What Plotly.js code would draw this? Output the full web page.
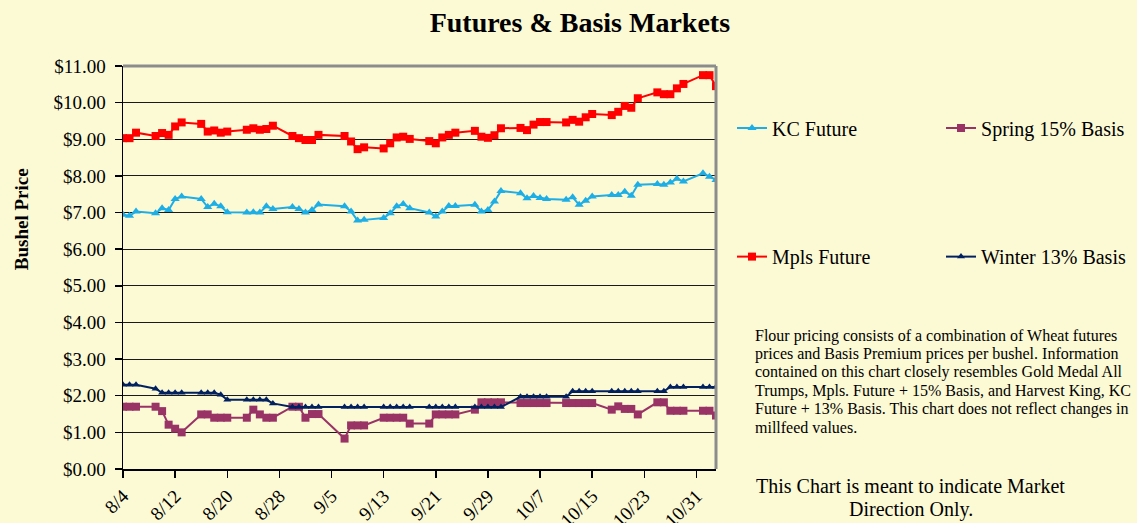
<!DOCTYPE html>
<html><head><meta charset="utf-8">
<script src="https://cdn.plot.ly/plotly-3.0.1.min.js"></script>
<style>html,body{margin:0;padding:0;background:#FCF9D5;}</style>
</head><body><div id="chart" style="width:1137px;height:523px;"></div>
<script>
const dates = [
 '2021-08-04','2021-08-05','2021-08-06','2021-08-09','2021-08-10','2021-08-11','2021-08-12','2021-08-13',
 '2021-08-16','2021-08-17','2021-08-18','2021-08-19','2021-08-20','2021-08-23','2021-08-24','2021-08-25',
 '2021-08-26','2021-08-27','2021-08-30','2021-08-31',
 '2021-09-01','2021-09-02','2021-09-03','2021-09-07','2021-09-08','2021-09-09','2021-09-10','2021-09-13',
 '2021-09-14','2021-09-15','2021-09-16','2021-09-17','2021-09-20','2021-09-21','2021-09-22','2021-09-23',
 '2021-09-24','2021-09-27','2021-09-28','2021-09-29','2021-09-30',
 '2021-10-01','2021-10-04','2021-10-05','2021-10-06','2021-10-07','2021-10-08','2021-10-11','2021-10-12',
 '2021-10-13','2021-10-14','2021-10-15','2021-10-18','2021-10-19','2021-10-20','2021-10-21','2021-10-22',
 '2021-10-25','2021-10-26','2021-10-27','2021-10-28','2021-10-29',
 '2021-11-01','2021-11-02','2021-11-03'
];
const kcFuture = [
 6.94,6.91,7.03,6.98,7.12,7.07,7.37,7.44,7.37,7.15,7.24,7.17,7.01,7.00,7.01,7.00,7.17,7.10,7.15,7.10,
 7.00,7.07,7.22,7.17,7.03,6.78,6.80,6.85,6.98,7.17,7.23,7.12,7.00,6.89,7.03,7.18,7.18,7.21,7.03,7.07,7.30,
 7.59,7.53,7.39,7.45,7.40,7.37,7.35,7.42,7.21,7.32,7.44,7.48,7.48,7.57,7.46,7.76,7.78,7.76,7.82,7.92,7.85,
 8.07,7.98,7.89
];
const mplsFuture = [
 9.03,9.03,9.18,9.09,9.17,9.12,9.35,9.46,9.42,9.21,9.24,9.18,9.21,9.26,9.30,9.26,9.28,9.37,9.09,9.03,
 8.98,8.98,9.12,9.09,8.94,8.73,8.78,8.75,8.89,9.05,9.07,9.01,8.95,8.89,9.05,9.12,9.18,9.23,9.07,9.04,9.11,
 9.30,9.31,9.25,9.40,9.47,9.47,9.46,9.53,9.48,9.60,9.69,9.66,9.75,9.91,9.86,10.12,10.28,10.23,10.23,10.39,10.51,
 10.75,10.75,10.45
];
const spring15Basis = [
 1.70,1.70,1.70,1.70,1.58,1.21,1.10,1.00,1.49,1.49,1.40,1.40,1.40,1.40,1.62,1.49,1.40,1.40,1.70,1.70,
 1.40,1.50,1.50,0.83,1.19,1.19,1.19,1.40,1.40,1.40,1.40,1.24,1.24,1.49,1.49,1.49,1.49,1.62,1.82,1.82,1.82,
 1.82,1.80,1.80,1.80,1.80,1.80,1.80,1.80,1.80,1.80,1.80,1.62,1.71,1.64,1.64,1.49,1.82,1.82,1.59,1.59,1.59,
 1.59,1.59,1.46
];
const winter13Basis = [
 2.30,2.30,2.30,2.19,2.08,2.08,2.08,2.08,2.08,2.08,2.08,2.03,1.89,1.89,1.89,1.89,1.89,1.79,1.69,1.69,
 1.69,1.69,1.69,1.69,1.69,1.69,1.69,1.69,1.69,1.69,1.69,1.69,1.69,1.69,1.69,1.69,1.69,1.69,1.69,1.69,1.69,
 1.69,1.97,1.97,1.97,1.97,1.97,1.97,2.12,2.12,2.12,2.12,2.12,2.12,2.12,2.12,2.12,2.12,2.12,2.24,2.24,2.24,
 2.24,2.24,2.24
];
const tickDates = ['2021-08-04','2021-08-12','2021-08-20','2021-08-28','2021-09-05','2021-09-13',
 '2021-09-21','2021-09-29','2021-10-07','2021-10-15','2021-10-23','2021-10-31'];
const tickLabels = ['8/4','8/12','8/20','8/28','9/5','9/13','9/21','9/29','10/7','10/15','10/23','10/31'];

const serif = 'Liberation Serif, Times New Roman, serif';
const bg = '#FCF9D5';

const traces = [
 {x: dates, y: kcFuture, name: 'KC Future', type: 'scatter', mode: 'lines+markers',
  line: {color: '#1EAEE6', width: 2}, marker: {symbol: 'triangle-up', size: 8, color: '#1EAEE6'}, legend: 'legend'},
 {x: dates, y: spring15Basis, name: 'Spring 15% Basis', type: 'scatter', mode: 'lines+markers',
  line: {color: '#993366', width: 2}, marker: {symbol: 'square', size: 8, color: '#993366'}, legend: 'legend'},
 {x: dates, y: mplsFuture, name: 'Mpls Future', type: 'scatter', mode: 'lines+markers',
  line: {color: '#FF0000', width: 2}, marker: {symbol: 'square', size: 8, color: '#FF0000'}, legend: 'legend2'},
 {x: dates, y: winter13Basis, name: 'Winter 13% Basis', type: 'scatter', mode: 'lines+markers',
  line: {color: '#002060', width: 2}, marker: {symbol: 'triangle-up', size: 7, color: '#002060'}, legend: 'legend2'}
];

const legendBase = {orientation: 'h', xanchor: 'left', yanchor: 'middle', x: 1.027,
  entrywidth: 164, entrywidthmode: 'pixels', bgcolor: 'rgba(0,0,0,0)',
  font: {family: serif, size: 20, color: '#000'}};

const para = [
 'Flour pricing consists of a combination of Wheat futures',
 'prices and Basis Premium prices per bushel. Information',
 'contained on this chart closely resembles Gold Medal All',
 'Trumps, Mpls. Future + 15% Basis, and Harvest King, KC',
 'Future + 13% Basis. This chart does not reflect changes in',
 'millfeed values.'
];
const paraY = [0.3309, 0.2855, 0.2399, 0.1945, 0.1492, 0.1036];
const annotations = para.map((t, i) => ({
  text: t, xref: 'paper', yref: 'paper', x: 1.0624, y: paraY[i], xanchor: 'left', yanchor: 'middle',
  showarrow: false, font: {family: serif, size: 16, color: '#000'}
}));
annotations.push({text: 'This Chart is meant to indicate Market', xref: 'paper', yref: 'paper',
  x: 1.3287, y: -0.0426, xanchor: 'center', yanchor: 'middle', showarrow: false,
  font: {family: serif, size: 20, color: '#000'}});
annotations.push({text: 'Direction Only.', xref: 'paper', yref: 'paper',
  x: 1.3287, y: -0.1004, xanchor: 'center', yanchor: 'middle', showarrow: false,
  font: {family: serif, size: 20, color: '#000'}});
annotations.push({text: '<b>Bushel Price</b>', xref: 'paper', yref: 'paper', textangle: -90,
  x: -0.1714, y: 0.6208, xanchor: 'center', yanchor: 'middle', showarrow: false,
  font: {family: serif, size: 19, color: '#000'}});

const layout = {
  width: 1137, height: 523, autosize: false,
  paper_bgcolor: bg, plot_bgcolor: bg,
  margin: {l: 123, r: 421, t: 66, b: 53.5, pad: 0, autoexpand: false},
  title: {text: '<b>Futures & Basis Markets</b>', xref: 'container', yref: 'container',
    x: 0.51, y: 0.958, xanchor: 'center', yanchor: 'middle',
    font: {family: serif, size: 28, color: '#000'}},
  xaxis: {type: 'date', range: ['2021-08-04', '2021-11-03'], tickmode: 'array',
    tickvals: tickDates, ticktext: tickLabels, tickangle: -45,
    ticks: 'outside', ticklen: 7, tickcolor: '#000', tickwidth: 1.5,
    showline: true, linecolor: '#000', linewidth: 1.5, showgrid: false, zeroline: false,
    tickfont: {family: serif, size: 19, color: '#000'}},
  yaxis: {range: [0, 11], dtick: 1, tick0: 0, tickprefix: '$', tickformat: '.2f',
    ticks: 'outside', ticklen: 7, tickcolor: '#000', tickwidth: 1.5, ticklabelstandoff: 5,
    showline: true, linecolor: '#000', linewidth: 1.5,
    showgrid: true, gridcolor: '#1a1a1a', gridwidth: 1, zeroline: false,
    tickfont: {family: serif, size: 19, color: '#000'}},
  legend: Object.assign({}, legendBase, {y: 0.846}),
  legend2: Object.assign({}, legendBase, {y: 0.527}),
  shapes: [
    {type: 'line', xref: 'paper', yref: 'paper', x0: 0, x1: 1, y0: 1, y1: 1, line: {color: '#8c8c8c', width: 3}},
    {type: 'line', xref: 'paper', yref: 'paper', x0: 1, x1: 1, y0: 0, y1: 1, line: {color: '#8c8c8c', width: 3}}
  ],
  annotations: annotations,
  showlegend: true
};

Plotly.newPlot('chart', traces, layout, {displayModeBar: false, staticPlot: true});
</script>
</body></html>
